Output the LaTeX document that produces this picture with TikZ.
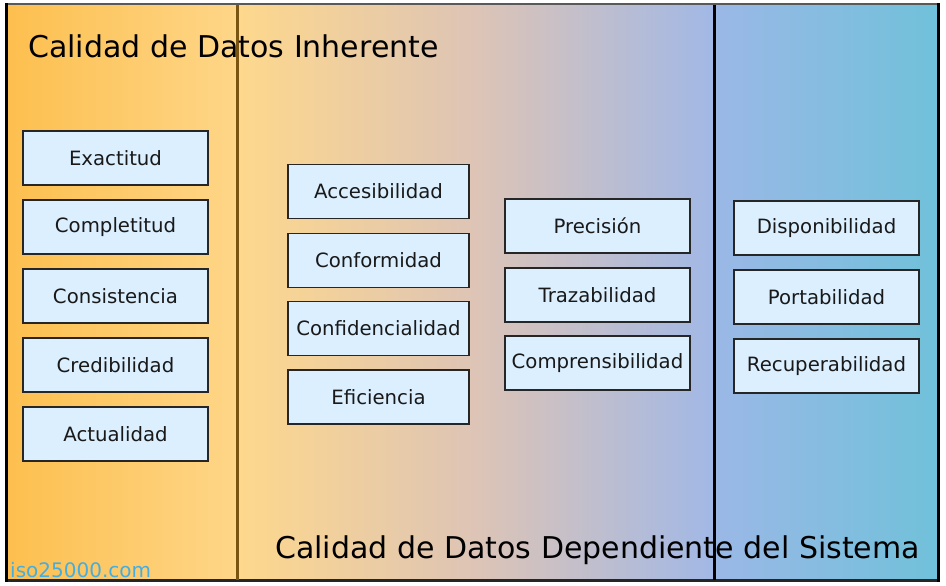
\documentclass[tikz,border=0pt]{standalone}
\usepackage{fontspec}
\newfontfamily\dejavu{DejaVu Sans}
\definecolor{leftA}{HTML}{FDBF4E}
\definecolor{leftB}{HTML}{FED688}
\definecolor{midA}{HTML}{FED88C}
\definecolor{midB}{HTML}{DDC4B6}
\definecolor{midC}{HTML}{A1B8E6}
\definecolor{rightA}{HTML}{9BB8E6}
\definecolor{rightB}{HTML}{70C1DA}
\definecolor{boxblue}{HTML}{DBEFFF}
\definecolor{webblue}{HTML}{45AEE0}
\definecolor{divbrown}{HTML}{7A5512}
\tikzset{
  attr/.style={draw=black!85, fill=boxblue, line width=1.6pt, text=black!90,
    minimum width=185pt, minimum height=54pt, inner sep=0pt,
    font=\dejavu\fontsize{19.7}{23}\selectfont},
  heading/.style={anchor=base west, inner sep=0pt,
    font=\dejavu\fontsize{30}{34}\selectfont}
}
\begin{document}
\begin{tikzpicture}[x=1pt,y=-1pt]
  \useasboundingbox (0,0) rectangle (946,586);
  \fill[white] (0,0) rectangle (946,586);
  \shade[left color=leftA, right color=leftB] (6,4) rectangle (237,581);
  \shade[left color=midA, right color=midB] (237,4) rectangle (476,581);
  \shade[left color=midB, right color=midC] (476,4) rectangle (715,581);
  \shade[left color=rightA, right color=rightB] (714,4) rectangle (939,581);
  \draw[line width=1.5pt,black!65] (6,4) -- (939,4);
  \draw[line width=2.5pt,black!85] (6,580.5) -- (939,580.5);
  \draw[line width=3pt] (6.5,3.5) -- (6.5,581.5);
  \draw[line width=2.5pt] (938.5,3.5) -- (938.5,581.5);
  \draw[line width=2.2pt,divbrown] (237.5,5) -- (237.5,580);
  \draw[line width=2.5pt] (714.5,5) -- (714.5,580);
  \node[heading] (inherente) at (28,58) {Calidad de Datos Inherente};
  \node[heading] (dependiente) at (275,558) {Calidad de Datos Dependiente del Sistema};
  \node[heading, text=webblue, font=\dejavu\fontsize{20}{24}\selectfont] (web) at (10,577) {iso25000.com};
  \node[attr] (exactitud) at (115.5,158) {Exactitud};
  \node[attr] (completitud) at (115.5,227) {Completitud};
  \node[attr] (consistencia) at (115.5,296) {Consistencia};
  \node[attr] (credibilidad) at (115.5,365) {Credibilidad};
  \node[attr] (actualidad) at (115.5,434) {Actualidad};
  \node[attr, minimum width=181pt] (accesibilidad) at (378.5,191.5) {Accesibilidad};
  \node[attr, minimum width=181pt] (conformidad) at (378.5,260.5) {Conformidad};
  \node[attr, minimum width=181pt] (confidencialidad) at (378.5,328.5) {Confidencialidad};
  \node[attr, minimum width=181pt] (eficiencia) at (378.5,397) {Eficiencia};
  \node[attr] (precision) at (597.5,226) {Precisión};
  \node[attr] (trazabilidad) at (597.5,295) {Trazabilidad};
  \node[attr] (comprensibilidad) at (597.5,363) {Comprensibilidad};
  \node[attr] (disponibilidad) at (826.5,228) {Disponibilidad};
  \node[attr] (portabilidad) at (826.5,297) {Portabilidad};
  \node[attr] (recuperabilidad) at (826.5,366) {Recuperabilidad};
\end{tikzpicture}
\end{document}
